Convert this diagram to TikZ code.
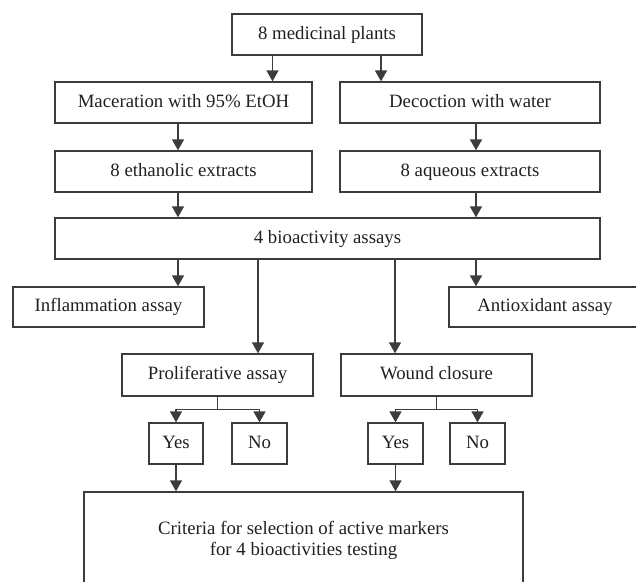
\documentclass[tikz,border=0pt]{standalone}
\usepackage{fontspec}
\setmainfont{Liberation Serif}
\usetikzlibrary{arrows.meta,calc}
\definecolor{linec}{HTML}{3C3C3C}
\definecolor{textc}{HTML}{231F20}
\begin{document}
\begin{tikzpicture}[x=1pt,y=-1pt,
  box/.style={draw=linec,line width=1.3pt,rectangle,inner sep=0pt,
    text=textc,font=\fontsize{18.8}{22}\selectfont,align=center,
    text height=13.5pt,text depth=4pt},
  arr/.style={draw=linec,line width=1.3pt,-{Triangle[length=11pt,width=12pt]}},
  ln/.style={draw=linec,line width=1.3pt}]
\useasboundingbox (0,0) rectangle (636,581);
\clip (0,0) rectangle (636,581);
% boxes (centre, width, height)
\node[box,minimum width=190pt,minimum height=41pt] (top) at (327,34.5) {8 medicinal plants};
\node[box,minimum width=257pt,minimum height=41pt] (mac) at (183.5,102.5) {Maceration with 95\% EtOH};
\node[box,minimum width=260pt,minimum height=41pt] (dec) at (470,102.5) {Decoction with water};
\node[box,minimum width=257pt,minimum height=41pt] (eth) at (183.5,171.5) {8 ethanolic extracts};
\node[box,minimum width=260pt,minimum height=41pt] (aq) at (470,171.5) {8 aqueous extracts};
\node[box,minimum width=545pt,minimum height=41pt] (bio) at (327.5,238.5) {4 bioactivity assays};
\node[box,minimum width=191pt,minimum height=40pt] (infl) at (108.5,307) {Inflammation assay};
\node[box,minimum width=192pt,minimum height=40pt] (anti) at (545,307) {Antioxidant assay};
\node[box,minimum width=191pt,minimum height=42pt] (prol) at (217.5,375) {Proliferative assay};
\node[box,minimum width=191pt,minimum height=42pt] (wound) at (436.5,375) {Wound closure};
\node[box,minimum width=54pt,minimum height=41pt] (yes1) at (176,443.5) {Yes};
\node[box,minimum width=55pt,minimum height=41pt] (no1) at (259.5,443.5) {No};
\node[box,minimum width=55pt,minimum height=41pt] (yes2) at (395.5,443.5) {Yes};
\node[box,minimum width=55pt,minimum height=41pt] (no2) at (477.5,443.5) {No};
\node[box,minimum width=439pt,minimum height=96pt,text height=,text depth=] (crit) at (303.5,540) {Criteria for selection of active markers\\[-1pt]for 4 bioactivities testing};
% connector x positions
\coordinate (xa) at (272.5,0);
\coordinate (xb) at (381,0);
\coordinate (xl) at (178,0);
\coordinate (xr) at (476,0);
\coordinate (xp) at (258,0);
\coordinate (xw) at (395,0);
% connectors
\draw[arr] (top.south -| xa) -- (mac.north -| xa);
\draw[arr] (top.south -| xb) -- (dec.north -| xb);
\draw[arr] (mac.south -| xl) -- (eth.north -| xl);
\draw[arr] (dec.south -| xr) -- (aq.north -| xr);
\draw[arr] (eth.south -| xl) -- (bio.north -| xl);
\draw[arr] (aq.south -| xr) -- (bio.north -| xr);
\draw[arr] (bio.south -| xl) -- (infl.north -| xl);
\draw[arr] (bio.south -| xr) -- (anti.north -| xr);
\draw[arr] (bio.south -| xp) -- (prol.north -| xp);
\draw[arr] (bio.south -| xw) -- (wound.north -| xw);
% branches
\coordinate (bp) at ($(prol.south)+(0,13)$);
\coordinate (bw) at ($(wound.south)+(0,13)$);
\draw[ln] (prol.south) -- (bp);
\draw[arr] (bp) -| (yes1.north);
\draw[arr] (bp) -| (no1.north);
\draw[ln] (wound.south) -- (bw);
\draw[arr] (bw) -| (yes2.north);
\draw[arr] (bw) -| (no2.north);
\draw[arr] (yes1.south) -- (crit.north -| yes1.south);
\draw[arr] (yes2.south) -- (crit.north -| yes2.south);
\end{tikzpicture}
\end{document}
